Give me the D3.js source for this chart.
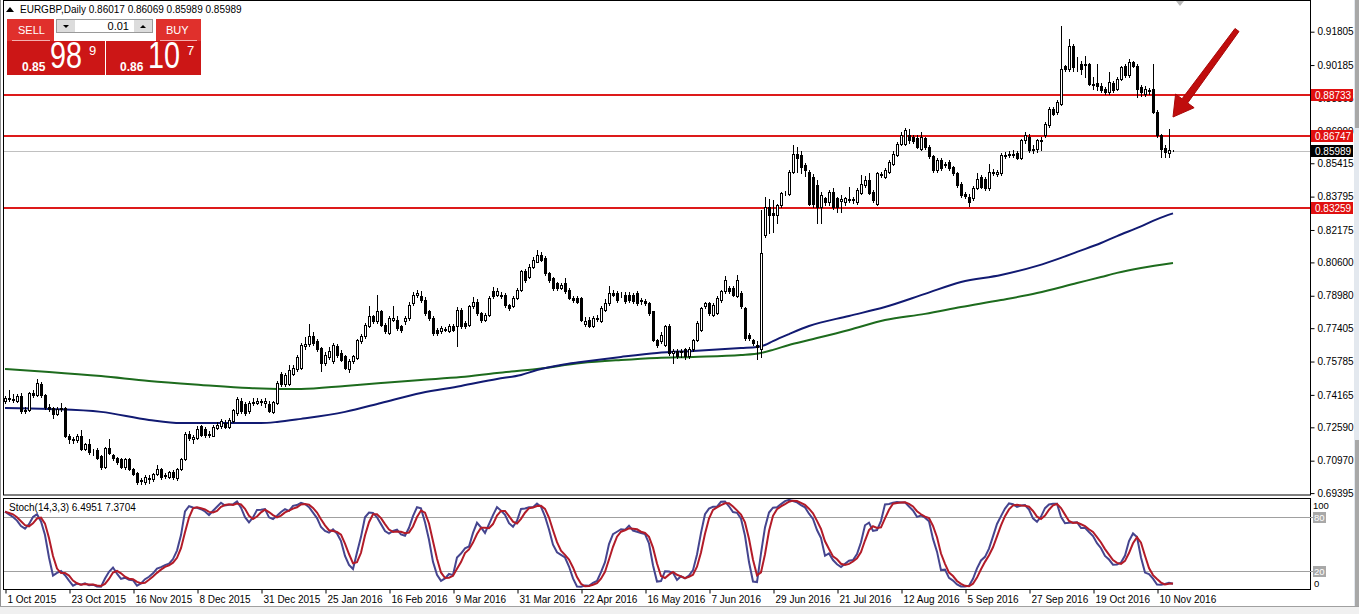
<!DOCTYPE html>
<html>
<head>
<meta charset="utf-8">
<script src="https://cdn.jsdelivr.net/npm/d3@7"></script>
<style>
body { margin: 0; background: #fff; }
svg { display: block; font-family: "Liberation Sans", Arial, sans-serif; }
</style>
</head>
<body>
<svg id="chart" width="1359" height="614"></svg>
<script>
// EURGBP daily candles, 1 Oct 2015 .. 16 Nov 2016
const open = [
  0.7387,0.7400,0.7395,0.7387,0.7410,0.7338,0.7345,0.7425,0.7415,0.7470,
  0.7415,0.7360,0.7352,0.7325,0.7350,0.7355,0.7217,0.7200,0.7195,0.7217,
  0.7155,0.7180,0.7140,0.7150,0.7120,0.7065,0.7158,0.7125,0.7112,0.7104,
  0.7065,0.7104,0.7056,0.7035,0.7000,0.6995,0.7015,0.7010,0.7030,0.7055,
  0.7022,0.7020,0.7042,0.7012,0.7056,0.7104,0.7225,0.7200,0.7205,0.7265,
  0.7250,0.7220,0.7218,0.7258,0.7265,0.7280,0.7262,0.7290,0.7330,0.7387,
  0.7370,0.7340,0.7375,0.7378,0.7385,0.7378,0.7370,0.7335,0.7378,0.7520,
  0.7470,0.7470,0.7520,0.7540,0.7545,0.7655,0.7665,0.7701,0.7677,0.7645,
  0.7572,0.7600,0.7580,0.7653,0.7620,0.7604,0.7543,0.7580,0.7596,0.7677,
  0.7701,0.7750,0.7798,0.7774,0.7822,0.7758,0.7717,0.7782,0.7782,0.7749,
  0.7774,0.7790,0.7862,0.7900,0.7895,0.7879,0.7822,0.7790,0.7733,0.7725,
  0.7733,0.7725,0.7749,0.7749,0.7830,0.7766,0.7758,0.7846,0.7870,0.7814,
  0.7782,0.7806,0.7919,0.7903,0.7900,0.7903,0.7854,0.7850,0.7887,0.7927,
  0.8016,0.7990,0.8040,0.8064,0.8096,0.8080,0.8008,0.7983,0.7959,0.7935,
  0.7959,0.7927,0.7887,0.7887,0.7887,0.7760,0.7780,0.7752,0.7785,0.7774,
  0.7830,0.7863,0.7911,0.7911,0.7900,0.7903,0.7903,0.7903,0.7911,0.7879,
  0.7871,0.7863,0.7822,0.7685,0.7680,0.7661,0.7750,0.7621,0.7629,0.7625,
  0.7637,0.7605,0.7637,0.7685,0.7734,0.7847,0.7863,0.7806,0.7814,0.7879,
  0.7919,0.7935,0.7935,0.7895,0.7911,0.7838,0.7709,0.7685,0.7660,0.7640,
  0.8195,0.8330,0.8298,0.8290,0.8338,0.8398,0.8390,0.8500,0.8588,0.8580,
  0.8532,0.8500,0.8475,0.8435,0.8330,0.8371,0.8355,0.8403,0.8371,0.8358,
  0.8355,0.8363,0.8363,0.8355,0.8395,0.8435,0.8459,0.8400,0.8346,0.8490,
  0.8475,0.8500,0.8540,0.8580,0.8636,0.8636,0.8677,0.8670,0.8665,0.8612,
  0.8665,0.8621,0.8575,0.8510,0.8556,0.8540,0.8548,0.8524,0.8492,0.8443,
  0.8390,0.8379,0.8371,0.8420,0.8475,0.8467,0.8420,0.8500,0.8490,0.8492,
  0.8578,0.8580,0.8580,0.8590,0.8566,0.8653,0.8670,0.8610,0.8613,0.8650,
  0.8677,0.8726,0.8806,0.8790,0.8830,0.9016,0.9000,0.9113,0.9016,0.9024,
  0.9020,0.9024,0.8927,0.8930,0.8919,0.8900,0.8887,0.8930,0.8903,0.8951,
  0.9016,0.8968,0.9032,0.9016,0.8911,0.8879,0.8895,0.8903,0.8790,0.8677,
  0.8615,0.8590,0.86017
];
const high = [
  0.7411,0.7440,0.7420,0.7420,0.7425,0.7360,0.7430,0.7440,0.7495,0.7480,
  0.7420,0.7370,0.7360,0.7360,0.7378,0.7360,0.7225,0.7210,0.7225,0.7245,
  0.7185,0.7200,0.7155,0.7160,0.7125,0.7165,0.7200,0.7130,0.7115,0.7110,
  0.7110,0.7110,0.7060,0.7040,0.7012,0.7025,0.7025,0.7035,0.7075,0.7060,
  0.7035,0.7045,0.7050,0.7060,0.7110,0.7235,0.7240,0.7220,0.7265,0.7270,
  0.7260,0.7240,0.7270,0.7285,0.7300,0.7295,0.7305,0.7350,0.7405,0.7400,
  0.7380,0.7385,0.7400,0.7400,0.7395,0.7400,0.7385,0.7385,0.7485,0.7530,
  0.7525,0.7560,0.7560,0.7612,0.7670,0.7700,0.7760,0.7720,0.7690,0.7650,
  0.7625,0.7650,0.7670,0.7665,0.7635,0.7610,0.7590,0.7610,0.7690,0.7710,
  0.7765,0.7850,0.7805,0.7900,0.7830,0.7765,0.7800,0.7846,0.7800,0.7755,
  0.7800,0.7870,0.7915,0.7925,0.7920,0.7890,0.7830,0.7800,0.7740,0.7750,
  0.7745,0.7760,0.7760,0.7845,0.7840,0.7775,0.7855,0.7890,0.7880,0.7820,
  0.7815,0.7895,0.7940,0.7935,0.7915,0.7910,0.7860,0.7895,0.7935,0.8025,
  0.8030,0.8050,0.8085,0.8120,0.8110,0.8090,0.8015,0.7990,0.7965,0.7960,
  0.7985,0.7935,0.7895,0.7895,0.7890,0.7795,0.7795,0.7800,0.7805,0.7850,
  0.7880,0.7943,0.7925,0.7920,0.7915,0.7915,0.7915,0.7910,0.7920,0.7885,
  0.7880,0.7870,0.7825,0.7690,0.7720,0.7755,0.7760,0.7640,0.7640,0.7640,
  0.7645,0.7650,0.7690,0.7775,0.7845,0.7870,0.7870,0.7865,0.7895,0.7925,
  0.7992,0.7945,0.7945,0.8000,0.7920,0.7845,0.7715,0.7690,0.7680,0.8314,
  0.8379,0.8370,0.8363,0.8345,0.8400,0.8405,0.8510,0.8629,0.8620,0.8600,
  0.8545,0.8510,0.8490,0.8459,0.8400,0.8380,0.8410,0.8420,0.8380,0.8387,
  0.8380,0.8427,0.8380,0.8420,0.8483,0.8480,0.8492,0.8410,0.8500,0.8500,
  0.8520,0.8556,0.8600,0.8645,0.8693,0.8715,0.8710,0.8680,0.8680,0.8693,
  0.8670,0.8630,0.8580,0.8565,0.8565,0.8550,0.8555,0.8530,0.8500,0.8450,
  0.8400,0.8390,0.8430,0.8492,0.8485,0.8475,0.8540,0.8515,0.8510,0.8590,
  0.8596,0.8600,0.8605,0.8600,0.8660,0.8693,0.8685,0.8630,0.8660,0.8669,
  0.8740,0.8815,0.8814,0.8847,0.9210,0.9020,0.9145,0.9121,0.9056,0.9040,
  0.9064,0.9030,0.8960,0.9024,0.8930,0.8910,0.8984,0.8940,0.8960,0.9016,
  0.9024,0.9048,0.9040,0.9024,0.8920,0.8915,0.8905,0.9024,0.8798,0.8685,
  0.8630,0.8709,0.86069
];
const low = [
  0.7378,0.7385,0.7380,0.7380,0.7330,0.7330,0.7340,0.7405,0.7410,0.7405,
  0.7350,0.7340,0.7305,0.7318,0.7340,0.7210,0.7185,0.7185,0.7190,0.7150,
  0.7150,0.7130,0.7125,0.7105,0.7058,0.7060,0.7130,0.7100,0.7080,0.7060,
  0.7058,0.7050,0.7025,0.6985,0.6982,0.6985,0.6990,0.7000,0.7025,0.7010,
  0.7015,0.7015,0.7010,0.7005,0.7050,0.7100,0.7195,0.7185,0.7200,0.7215,
  0.7210,0.7210,0.7215,0.7250,0.7255,0.7255,0.7255,0.7285,0.7320,0.7330,
  0.7320,0.7330,0.7365,0.7370,0.7368,0.7360,0.7335,0.7330,0.7370,0.7460,
  0.7460,0.7465,0.7515,0.7532,0.7540,0.7640,0.7655,0.7660,0.7630,0.7532,
  0.7560,0.7590,0.7570,0.7600,0.7580,0.7540,0.7530,0.7570,0.7590,0.7670,
  0.7695,0.7745,0.7765,0.7765,0.7750,0.7715,0.7710,0.7775,0.7730,0.7720,
  0.7760,0.7780,0.7855,0.7890,0.7870,0.7805,0.7780,0.7705,0.7705,0.7715,
  0.7725,0.7720,0.7725,0.7653,0.7740,0.7740,0.7750,0.7838,0.7805,0.7770,
  0.7775,0.7800,0.7885,0.7895,0.7885,0.7845,0.7830,0.7845,0.7880,0.7920,
  0.7965,0.7985,0.8035,0.8060,0.8065,0.8000,0.7965,0.7925,0.7925,0.7930,
  0.7910,0.7880,0.7870,0.7865,0.7775,0.7750,0.7745,0.7745,0.7775,0.7770,
  0.7825,0.7855,0.7895,0.7870,0.7890,0.7865,0.7870,0.7865,0.7855,0.7860,
  0.7855,0.7805,0.7680,0.7650,0.7670,0.7655,0.7610,0.7572,0.7595,0.7600,
  0.7590,0.7595,0.7630,0.7680,0.7725,0.7840,0.7805,0.7800,0.7810,0.7870,
  0.7910,0.7910,0.7895,0.7890,0.7840,0.7685,0.7685,0.7660,0.7590,0.7600,
  0.8185,0.8201,0.8209,0.8250,0.8330,0.8385,0.8385,0.8495,0.8500,0.8492,
  0.8480,0.8340,0.8330,0.8250,0.8250,0.8340,0.8340,0.8320,0.8306,0.8306,
  0.8340,0.8355,0.8350,0.8345,0.8390,0.8425,0.8390,0.8355,0.8340,0.8475,
  0.8470,0.8495,0.8535,0.8575,0.8630,0.8630,0.8640,0.8640,0.8615,0.8605,
  0.8610,0.8565,0.8500,0.8500,0.8510,0.8525,0.8510,0.8485,0.8425,0.8380,
  0.8375,0.8333,0.8365,0.8415,0.8420,0.8410,0.8410,0.8485,0.8480,0.8485,
  0.8565,0.8570,0.8570,0.8560,0.8560,0.8640,0.8596,0.8590,0.8597,0.8605,
  0.8670,0.8720,0.8775,0.8782,0.8825,0.8990,0.8990,0.8990,0.8992,0.8976,
  0.8960,0.8920,0.8903,0.8895,0.8887,0.8880,0.8880,0.8888,0.8895,0.8945,
  0.8960,0.8960,0.9008,0.8863,0.8870,0.8870,0.8880,0.8785,0.8669,0.8572,
  0.8572,0.8572,0.85989
];
const close = [
  0.7403,0.7395,0.7390,0.7410,0.7338,0.7345,0.7425,0.7415,0.7475,0.7415,
  0.7360,0.7350,0.7322,0.7350,0.7355,0.7217,0.7201,0.7195,0.7215,0.7155,
  0.7178,0.7140,0.7138,0.7110,0.7065,0.7158,0.7135,0.7110,0.7090,0.7065,
  0.7104,0.7056,0.7032,0.6995,0.7005,0.7020,0.7010,0.7030,0.7055,0.7020,
  0.7026,0.7040,0.7016,0.7056,0.7104,0.7225,0.7205,0.7212,0.7250,0.7220,
  0.7220,0.7225,0.7260,0.7270,0.7290,0.7262,0.7295,0.7345,0.7395,0.7340,
  0.7330,0.7378,0.7380,0.7385,0.7380,0.7385,0.7340,0.7380,0.7475,0.7470,
  0.7515,0.7535,0.7545,0.7600,0.7661,0.7665,0.7701,0.7669,0.7637,0.7572,
  0.7612,0.7628,0.7661,0.7612,0.7588,0.7548,0.7580,0.7604,0.7685,0.7701,
  0.7758,0.7798,0.7774,0.7822,0.7758,0.7725,0.7790,0.7790,0.7741,0.7733,
  0.7790,0.7854,0.7903,0.7911,0.7879,0.7814,0.7790,0.7717,0.7717,0.7741,
  0.7735,0.7749,0.7733,0.7830,0.7749,0.7749,0.7846,0.7870,0.7814,0.7782,
  0.7806,0.7887,0.7895,0.7919,0.7895,0.7854,0.7840,0.7887,0.7927,0.8016,
  0.7975,0.8040,0.8072,0.8096,0.8072,0.8008,0.7975,0.7935,0.7935,0.7950,
  0.7919,0.7887,0.7879,0.7870,0.7782,0.7775,0.7752,0.7790,0.7790,0.7838,
  0.7863,0.7911,0.7903,0.7879,0.7903,0.7871,0.7879,0.7871,0.7863,0.7871,
  0.7863,0.7814,0.7685,0.7661,0.7709,0.7750,0.7621,0.7629,0.7605,0.7629,
  0.7605,0.7637,0.7685,0.7766,0.7838,0.7863,0.7814,0.7855,0.7887,0.7919,
  0.7976,0.7919,0.7903,0.7976,0.7847,0.7693,0.7693,0.7669,0.7650,0.8106,
  0.8330,0.8290,0.8290,0.8338,0.8395,0.8395,0.8500,0.8588,0.8566,0.8524,
  0.8508,0.8346,0.8346,0.8330,0.8387,0.8355,0.8403,0.8330,0.8330,0.8367,
  0.8371,0.8367,0.8366,0.8411,0.8443,0.8459,0.8395,0.8363,0.8492,0.8484,
  0.8508,0.8548,0.8588,0.8636,0.8677,0.8701,0.8653,0.8648,0.8621,0.8670,
  0.8621,0.8575,0.8508,0.8556,0.8520,0.8535,0.8520,0.8492,0.8435,0.8387,
  0.8383,0.8355,0.8420,0.8467,0.8427,0.8420,0.8500,0.8495,0.8500,0.8580,
  0.8582,0.8585,0.8588,0.8566,0.8653,0.8677,0.8605,0.8605,0.8653,0.8655,
  0.8734,0.8806,0.8782,0.8839,0.9000,0.9000,0.9113,0.9008,0.9012,0.9000,
  0.9024,0.8927,0.8923,0.8918,0.8895,0.8890,0.8935,0.8895,0.8951,0.9008,
  0.8968,0.9032,0.9016,0.8903,0.8887,0.8903,0.8891,0.8790,0.8677,0.8613,
  0.8597,0.8605,0.85989
];

// moving averages: [bar index, value]
const maBlue = [
  [0,0.7353],[11,0.7348],[24,0.7334],[36,0.7295],[44,0.7280],[49,0.7280],[64,0.7280],
  [68,0.7285],[74,0.7300],[85,0.7334],[94,0.7377],[104,0.7426],[114,0.7460],[123,0.7494],
  [129,0.7513],[133,0.7537],[139,0.7562],[144,0.7576],[154,0.7601],[163,0.7620],
  [172,0.7630],[184,0.7644],[188,0.7649],[190,0.7659],[192,0.7678],[196,0.7712],
  [201,0.7751],[211,0.7800],[220,0.7843],[230,0.7907],[239,0.7965],[249,0.7999],
  [258,0.8043],[264,0.8082],[268,0.8111],[274,0.8154],[278,0.8188],[284,0.8235],
  [287,0.8262],[290,0.8285],[292,0.8298]
];
const maGreen = [
  [0,0.7542],[11,0.7528],[24,0.7508],[36,0.7484],[49,0.7465],[61,0.7450],[74,0.7445],
  [85,0.7460],[94,0.7474],[104,0.7489],[114,0.7503],[123,0.7523],[133,0.7542],
  [144,0.7571],[154,0.7586],[163,0.7596],[172,0.7601],[184,0.7610],[189,0.7620],
  [192,0.7635],[196,0.7659],[201,0.7683],[211,0.7732],[220,0.7780],[230,0.7810],
  [239,0.7843],[249,0.7877],[258,0.7911],[268,0.7960],[274,0.7989],[278,0.8009],
  [284,0.8033],[292,0.8057]
];
// first stochastic %K values (not enough history to compute them)
const stochLead = [86, 83, 80, 76, 70, 67, 72, 80, 83, 75, 60, 35, 15, 18, 20];

const priceTicks = [0.91805,0.90185,0.88565,0.86990,0.85415,0.83795,0.82175,0.80600,
                    0.78980,0.77405,0.75785,0.74165,0.72590,0.70970,0.69395];
const levels = [0.88733, 0.86747, 0.83259];
const bid = 0.85989;
const dateLabels = ["1 Oct 2015","23 Oct 2015","16 Nov 2015","8 Dec 2015","31 Dec 2015",
                    "25 Jan 2016","16 Feb 2016","9 Mar 2016","31 Mar 2016","22 Apr 2016",
                    "16 May 2016","7 Jun 2016","29 Jun 2016","21 Jul 2016","12 Aug 2016",
                    "5 Sep 2016","27 Sep 2016","19 Oct 2016","10 Nov 2016"];
const dateStep = 16;

var svg = d3.select("#chart");
var chartLeft = 3, chartRight = 1310, mainBottom = 495, subTop = 498, subBottom = 589;

var x = d3.scaleLinear().domain([0, close.length - 1]).range([5, 5 + 4 * (close.length - 1)]);
var y = d3.scaleLinear().domain([0.69395, 0.91805]).range([493.1, 31.7]);
var ys = d3.scaleLinear().domain([0, 100]).range([589, 499]);

// window chrome
svg.append("rect").attr("x", 0).attr("y", 606).attr("width", 1359).attr("height", 8).attr("fill", "#f0f0f0");
svg.append("line").attr("x1", 0).attr("x2", 1359).attr("y1", 606.5).attr("y2", 606.5).attr("stroke", "#a0a0a0");
svg.append("rect").attr("x", 1354).attr("y", 0).attr("width", 5).attr("height", 606).attr("fill", "#e3e8ee");
svg.append("rect").attr("x", 1355).attr("y", 0).attr("width", 4).attr("height", 128).attr("fill", "#a8a8a8");
svg.append("rect").attr("x", 1355).attr("y", 440).attr("width", 4).attr("height", 166).attr("fill", "#a8a8a8");
svg.append("line").attr("x1", 0.5).attr("x2", 0.5).attr("y1", 0).attr("y2", 606).attr("stroke", "#909090");

svg.append("clipPath").attr("id", "mainClip")
  .append("rect").attr("x", chartLeft).attr("y", 1).attr("width", chartRight - chartLeft).attr("height", mainBottom - 1);

var main = svg.append("g").attr("clip-path", "url(#mainClip)");

// bid line and horizontal levels
main.append("line")
  .attr("x1", chartLeft).attr("x2", chartRight)
  .attr("y1", Math.round(y(bid)) + 0.5).attr("y2", Math.round(y(bid)) + 0.5)
  .attr("stroke", "#c0c0c0");
main.selectAll("line.level").data(levels).enter().append("line")
  .attr("class", "level")
  .attr("x1", chartLeft).attr("x2", chartRight)
  .attr("y1", d => Math.round(y(d))).attr("y2", d => Math.round(y(d)))
  .attr("stroke", "#dd1a1a").attr("stroke-width", 2);

// moving averages
var maLine = d3.line().x(d => x(d[0])).y(d => y(d[1])).curve(d3.curveMonotoneX);
main.append("path").datum(maGreen).attr("d", maLine)
  .attr("fill", "none").attr("stroke", "#1d6b1d").attr("stroke-width", 2);
main.append("path").datum(maBlue).attr("d", maLine)
  .attr("fill", "none").attr("stroke", "#111a72").attr("stroke-width", 2);

// candles
var bars = close.map((c, i) => ({ i: i, o: open[i], h: high[i], l: low[i], c: c }));
var px = i => Math.round(x(i)) + 0.5;
main.selectAll("line.wick").data(bars).enter().append("line")
  .attr("class", "wick")
  .attr("x1", d => px(d.i)).attr("x2", d => px(d.i))
  .attr("y1", d => Math.round(y(d.h))).attr("y2", d => Math.round(y(d.l)) + 1)
  .attr("stroke", "#000");
main.selectAll("rect.body").data(bars).enter().append("rect")
  .attr("class", "body")
  .attr("x", d => px(d.i) - 1).attr("width", 2)
  .attr("y", d => Math.round(y(Math.max(d.o, d.c))) + 0.5)
  .attr("height", d => Math.round(y(Math.min(d.o, d.c))) - Math.round(y(Math.max(d.o, d.c))))
  .attr("fill", d => d.c >= d.o ? "#fff" : "#000")
  .attr("stroke", "#000");

// arrow
var tail = [1237, 30], tip = [1173, 117];
var ux = (tip[0] - tail[0]), uy = (tip[1] - tail[1]);
var len = Math.hypot(ux, uy); ux /= len; uy /= len;
var nx = -uy, ny = ux;
var base = [tip[0] - 20 * ux, tip[1] - 20 * uy];
var arrowPts = [
  [tail[0] + 2.5 * nx, tail[1] + 2.5 * ny],
  [base[0] + 3.5 * nx, base[1] + 3.5 * ny],
  [base[0] + 11.5 * nx, base[1] + 11.5 * ny],
  tip,
  [base[0] - 11.5 * nx, base[1] - 11.5 * ny],
  [base[0] - 3.5 * nx, base[1] - 3.5 * ny],
  [tail[0] - 2.5 * nx, tail[1] - 2.5 * ny]
];
svg.append("path").attr("d", d3.line()(arrowPts) + "Z")
  .attr("fill", "#c00d0d").attr("stroke", "#a80808").attr("stroke-width", 1).attr("stroke-linejoin", "round");

// shift marker at the top
svg.append("path").attr("d", "M1176,1L1184,1L1180,6Z").attr("fill", "#b8b8b8");

// frames
svg.append("rect").attr("x", chartLeft + 0.5).attr("y", 0.5)
  .attr("width", chartRight - chartLeft).attr("height", mainBottom - 0.5)
  .attr("fill", "none").attr("stroke", "#000");
svg.append("rect").attr("x", chartLeft + 0.5).attr("y", subTop + 0.5)
  .attr("width", chartRight - chartLeft).attr("height", subBottom - subTop)
  .attr("fill", "none").attr("stroke", "#000");

// price axis
var yAxis = svg.append("g")
  .attr("transform", "translate(" + (chartRight + 0.5) + ",0)")
  .call(d3.axisRight(y).tickValues(priceTicks).tickSize(4).tickPadding(3).tickFormat(d3.format(".5f")));
yAxis.select(".domain").remove();
yAxis.selectAll("text").attr("font-size", "10px").attr("font-family", "Liberation Sans, Arial").attr("fill", "#000");

// level labels on the axis (they cover the ticks behind them, as in the terminal)
var tagData = levels.map(v => ({ v: v, bg: "#e01010" })).concat([{ v: bid, bg: "#000" }]);
var tags = svg.selectAll("g.tag").data(tagData).enter().append("g")
  .attr("class", "tag")
  .attr("transform", d => "translate(1311," + Math.round(y(d.v)) + ")");
tags.append("rect").attr("x", 0).attr("y", -6).attr("width", 42).attr("height", 12).attr("fill", d => d.bg);
tags.append("text").attr("x", 4).attr("y", 4).attr("font-size", "10px").attr("fill", "#fff")
  .text(d => d3.format(".5f")(d.v));

// stochastic (14,3,3) from the candles; the first bars come from stochLead
var kRaw = close.map((c, i) => {
  var from = Math.max(0, i - 13);
  var lo = d3.min(low.slice(from, i + 1)), hi = d3.max(high.slice(from, i + 1));
  return [c - lo, hi - lo];
});
var stochMain = kRaw.map((_, i) => {
  if (i < stochLead.length) return stochLead[i];
  var w = kRaw.slice(i - 2, i + 1);
  return 100 * d3.sum(w, d => d[0]) / d3.sum(w, d => d[1]);
});
var stochSignal = stochMain.map((_, i) => d3.mean(stochMain.slice(Math.max(0, i - 2), i + 1)));

svg.append("clipPath").attr("id", "subClip")
  .append("rect").attr("x", chartLeft + 1).attr("y", subTop + 1).attr("width", chartRight - chartLeft - 1).attr("height", subBottom - subTop - 1);
var sub = svg.append("g").attr("clip-path", "url(#subClip)");
[80, 20].forEach(v => {
  sub.append("line").attr("x1", chartLeft).attr("x2", chartRight)
    .attr("y1", Math.round(ys(v)) + 0.5).attr("y2", Math.round(ys(v)) + 0.5).attr("stroke", "#a0a0a0");
});
var stLine = d3.line().x((d, i) => x(i)).y(d => ys(d));
sub.append("path").datum(stochMain).attr("d", stLine)
  .attr("fill", "none").attr("stroke", "#45458f").attr("stroke-width", 2);
sub.append("path").datum(stochSignal).attr("d", stLine)
  .attr("fill", "none").attr("stroke", "#b31b28").attr("stroke-width", 2);

svg.append("text").attr("x", 9).attr("y", 511).attr("font-size", "10px").attr("fill", "#000")
  .text("Stoch(14,3,3) 6.4951 7.3704");

// stochastic scale labels
[80, 20].forEach(v => {
  svg.append("line").attr("x1", chartRight).attr("x2", 1313)
    .attr("y1", Math.round(ys(v)) + 0.5).attr("y2", Math.round(ys(v)) + 0.5).attr("stroke", "#a0a0a0");
  svg.append("rect").attr("x", 1313).attr("y", Math.round(ys(v)) - 5).attr("width", 13).attr("height", 11).attr("fill", "#a8a8a8");
  svg.append("text").attr("x", 1314).attr("y", Math.round(ys(v)) + 4).attr("font-size", "9.5px").attr("fill", "#fff").text(v);
});
svg.append("text").attr("x", 1313).attr("y", 509).attr("font-size", "9.5px").text("100");
svg.append("text").attr("x", 1314).attr("y", 587).attr("font-size", "9.5px").text("0");

// date axis
var dateTicks = dateLabels.map((d, k) => k * dateStep);
var xAxis = svg.append("g")
  .attr("transform", "translate(0," + (subBottom + 0.5) + ")")
  .call(d3.axisBottom(x).tickValues(dateTicks).tickSize(4).tickFormat((d, k) => dateLabels[k]));
xAxis.select(".domain").remove();
xAxis.selectAll(".tick line").attr("transform", "translate(0.5,0)");
xAxis.selectAll("text").attr("text-anchor", "start").attr("x", 2).attr("y", 6).attr("dy", "0.71em")
  .attr("font-size", "10px").attr("font-family", "Liberation Sans, Arial").attr("fill", "#000");

// header
svg.append("path").attr("d", "M6,12L10,7L14,12Z").attr("fill", "#000");
svg.append("text").attr("x", 20).attr("y", 13).attr("font-size", "10px")
  .text("EURGBP,Daily  0.86017 0.86069 0.85989 0.85989");

// one-click trading panel
var panel = svg.append("g");
panel.append("rect").attr("x", 7).attr("y", 19).attr("width", 47).attr("height", 23).attr("fill", "#e0302c");
panel.append("rect").attr("x", 7).attr("y", 41).attr("width", 98).attr("height", 34).attr("fill", "#cc1616");
panel.append("rect").attr("x", 156).attr("y", 19).attr("width", 45).attr("height", 23).attr("fill", "#e0302c");
panel.append("rect").attr("x", 106).attr("y", 41).attr("width", 95).attr("height", 34).attr("fill", "#cc1616");
panel.append("line").attr("x1", 12).attr("x2", 50).attr("y1", 40.5).attr("y2", 40.5).attr("stroke", "#f4b0b0");
panel.append("line").attr("x1", 160).attr("x2", 197).attr("y1", 40.5).attr("y2", 40.5).attr("stroke", "#f4b0b0");
panel.append("text").attr("x", 18).attr("y", 34).attr("font-size", "11px").attr("fill", "#fff").text("SELL");
panel.append("text").attr("x", 166).attr("y", 34).attr("font-size", "11px").attr("fill", "#fff").text("BUY");

panel.append("rect").attr("x", 56.5).attr("y", 19.5).attr("width", 96).attr("height", 13).attr("fill", "#fff").attr("stroke", "#9a9a9a");
panel.append("rect").attr("x", 57).attr("y", 20).attr("width", 18).attr("height", 12).attr("fill", "#dcdcdc");
panel.append("rect").attr("x", 134).attr("y", 20).attr("width", 18).attr("height", 12).attr("fill", "#dcdcdc");
panel.append("path").attr("d", "M63,25L69,25L66,28Z").attr("fill", "#000");
panel.append("path").attr("d", "M140,28L146,28L143,25Z").attr("fill", "#000");
panel.append("text").attr("x", 129).attr("y", 30).attr("text-anchor", "end").attr("font-size", "11px").text("0.01");

panel.append("text").attr("x", 22).attr("y", 71).attr("font-size", "12px").attr("font-weight", "bold").attr("fill", "#fff").text("0.85");
panel.append("text").attr("x", 50).attr("y", 68).attr("font-size", "36px").attr("fill", "#fff")
  .attr("textLength", 32).attr("lengthAdjust", "spacingAndGlyphs").text("98");
panel.append("text").attr("x", 89).attr("y", 55).attr("font-size", "13px").attr("fill", "#fff").text("9");
panel.append("text").attr("x", 120).attr("y", 71).attr("font-size", "12px").attr("font-weight", "bold").attr("fill", "#fff").text("0.86");
panel.append("text").attr("x", 148).attr("y", 68).attr("font-size", "36px").attr("fill", "#fff")
  .attr("textLength", 32).attr("lengthAdjust", "spacingAndGlyphs").text("10");
panel.append("text").attr("x", 187).attr("y", 55).attr("font-size", "13px").attr("fill", "#fff").text("7");
</script>
</body>
</html>
